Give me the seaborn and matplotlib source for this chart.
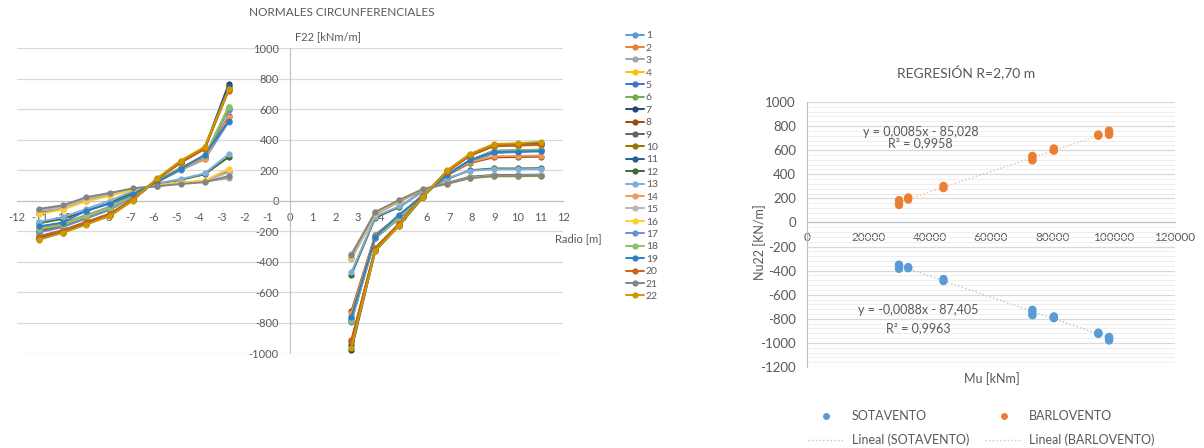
"""
plot.py
-----------
Normales circunferenciales F22 por radio y regresión Nu22 - Mu en R=2,70 m.
"""

import numpy as np
import pandas as pd
import matplotlib
matplotlib.use("Agg")
import matplotlib.pyplot as plt
import seaborn as sns
from matplotlib.ticker import MultipleLocator
from matplotlib.lines import Line2D

# -----------------------------
# Datos
# -----------------------------
# radios de cada punto [m]: lado negativo (barlovento) y positivo (sotavento)
radios_neg = [-11.05, -10.0, -8.95, -7.9, -6.9, -5.85, -4.8, -3.75, -2.7]
radios_pos = [2.7, 3.75, 4.8, 5.85, 6.9, 7.9, 8.95, 10.0, 11.05]

# F22 [kNm/m]: 9 valores del lado negativo + 9 del lado positivo
serie_01 = [-175, -150, -95, -40, 35, 120, 200, 270, 515,   -770, -235, -105, 30, 165, 250, 310, 318, 322]
serie_02 = [-240, -200, -145, -90, 10, 140, 250, 340, 725,  -925, -315, -155, 28, 190, 295, 360, 365, 372]
serie_03 = [-65, -40, 15, 45, 78, 95, 112, 125, 145,        -350, -78, 2, 72, 110, 148, 160, 160, 163]
serie_04 = [-245, -205, -150, -92, 8, 142, 258, 348, 735,   -960, -325, -160, 25, 195, 302, 366, 370, 378]
serie_05 = [-205, -170, -115, -55, 28, 125, 212, 288, 600,  -790, -245, -115, 35, 172, 262, 325, 328, 332]
serie_06 = [-195, -165, -108, -50, 30, 127, 215, 290, 614,  -780, -240, -110, 38, 170, 258, 322, 326, 330]
serie_07 = [-255, -210, -155, -98, 2, 138, 252, 342, 762,   -980, -330, -165, 22, 192, 300, 362, 366, 370]
serie_08 = [-200, -168, -112, -52, 32, 122, 205, 280, 553,  -725, -225, -100, 40, 165, 245, 283, 285, 288]
serie_09 = [-80, -55, 0, 35, 72, 98, 115, 128, 190,         -380, -90, -8, 70, 115, 155, 168, 168, 170]
serie_10 = [-235, -195, -140, -85, 12, 140, 248, 338, 730,  -915, -310, -150, 30, 188, 292, 355, 360, 365]
serie_11 = [-248, -208, -152, -95, 5, 139, 255, 345, 750,   -950, -322, -158, 26, 194, 298, 364, 368, 374]
serie_12 = [-150, -120, -70, -15, 55, 110, 135, 172, 285,   -487, -112, -44, 62, 140, 198, 210, 210, 212]
serie_13 = [-140, -110, -55, 0, 62, 112, 140, 178, 303,     -470, -105, -38, 58, 145, 195, 205, 205, 207]
serie_14 = [-185, -155, -100, -45, 35, 124, 205, 275, 545,  -740, -230, -102, 38, 168, 250, 290, 292, 295]
serie_15 = [-70, -48, 10, 42, 76, 96, 113, 126, 185,        -385, -88, -5, 72, 112, 150, 163, 163, 166]
serie_16 = [-90, -60, -5, 30, 70, 100, 118, 130, 208,       -370, -82, -2, 74, 108, 146, 158, 158, 160]
serie_17 = [-210, -175, -118, -60, 25, 126, 212, 290, 596,  -795, -248, -118, 33, 172, 264, 326, 330, 334]
serie_18 = [-190, -160, -105, -48, 30, 128, 216, 292, 610,  -785, -242, -112, 36, 170, 260, 324, 328, 332]
serie_19 = [-170, -145, -66, -20, 40, 122, 208, 300, 520,   -765, -237, -92, 30, 168, 263, 318, 320, 325]
serie_20 = [-238, -198, -142, -88, 10, 138, 250, 340, 720,  -920, -318, -152, 28, 190, 296, 358, 362, 368]
serie_21 = [-55, -32, 22, 50, 80, 94, 108, 120, 160,        -360, -75, 3, 76, 110, 147, 160, 160, 162]
serie_22 = [-258, -212, -158, -100, 0, 145, 262, 352, 728,  -965, -329, -164, 24, 197, 305, 370, 375, 385]

series = [serie_01, serie_02, serie_03, serie_04, serie_05, serie_06, serie_07, serie_08,
          serie_09, serie_10, serie_11, serie_12, serie_13, serie_14, serie_15, serie_16,
          serie_17, serie_18, serie_19, serie_20, serie_21, serie_22]
nombres = [str(i) for i in range(1, 23)]

# Mu [kNm] de cada serie (regresión en R=2,70 m)
mu_series = [73500, 95000, 30000, 98500, 80500, 80500, 98500, 73500, 33000, 95000, 98500,
             44500, 44500, 73500, 30000, 33000, 80500, 80500, 73500, 95000, 30000, 98500]

# paleta por defecto de Excel
colores = ['#5B9BD5', '#ED7D31', '#A5A5A5', '#FFC000', '#4472C4', '#70AD47', '#264478', '#9E480E',
           '#636363', '#997300', '#255E91', '#43682B', '#7CAFDD', '#F1975A', '#B7B7B7', '#FFCD33',
           '#698ED0', '#8CC168', '#327DC2', '#D26012', '#848484', '#CC9A00']

# -----------------------------
# DataFrames
# -----------------------------
radios = radios_neg + radios_pos
filas = []
for nombre, valores in zip(nombres, series):
    for r, v in zip(radios, valores):
        filas.append({'serie': nombre, 'radio': r, 'f22': v, 'lado': 'neg' if r < 0 else 'pos'})
df = pd.DataFrame(filas)

# valores en R=2,70 m: barlovento (r=-2,7) y sotavento (r=+2,7)
idx_bar = radios.index(-2.7)
idx_sot = radios.index(2.7)
reg = pd.DataFrame({
    'mu': mu_series + mu_series,
    'nu22': [s[idx_sot] for s in series] + [s[idx_bar] for s in series],
    'tipo': ['SOTAVENTO'] * len(series) + ['BARLOVENTO'] * len(series),
})

# -----------------------------
# Figura
# -----------------------------
sns.set_style('white')
plt.rcParams['font.family'] = ['Lato', 'DejaVu Sans']
plt.rcParams['axes.unicode_minus'] = False
GRIS_TXT = '#595959'
GRIS_GRID = '#D9D9D9'
GRIS_EJE = '#BFBFBF'

W, H = 1204, 448
fig = plt.figure(figsize=(W / 100, H / 100), dpi=100)

def px(x0, y0, x1, y1):
    """Rectángulo en pixeles (desde arriba) -> coordenadas de figura."""
    return [x0 / W, 1 - y1 / H, (x1 - x0) / W, (y1 - y0) / H]

# --- gráfico izquierdo: normales circunferenciales
ax1 = fig.add_axes(px(17, 48, 563, 353))
sns.lineplot(data=df, x='radio', y='f22', hue='serie', hue_order=nombres, palette=colores,
             units='lado', estimator=None, marker='o', markersize=4.5, markeredgewidth=0,
             linewidth=1.4, ax=ax1, zorder=3)
handles, labels = ax1.get_legend_handles_labels()
ax1.get_legend().remove()

ax1.set_xlim(-12, 12)
ax1.set_ylim(-1000, 1000)
ax1.set_xticks(range(-12, 13))
ax1.set_yticks(range(-1000, 1001, 200))
ax1.spines['left'].set_position(('data', 0))
ax1.spines['bottom'].set_position(('data', 0))
for s in ['top', 'right']:
    ax1.spines[s].set_visible(False)
for s in ['left', 'bottom']:
    ax1.spines[s].set_color(GRIS_EJE)
ax1.yaxis.grid(True, color=GRIS_GRID, lw=0.9)
ax1.set_axisbelow(True)
ax1.tick_params(length=0, labelsize=8, labelcolor=GRIS_TXT, pad=8)
ax1.set_xlabel('')
ax1.set_ylabel('')

fig.text(342 / W, 1 - 13 / H, 'NORMALES CIRCUNFERENCIALES', ha='center', va='center',
         fontsize=8.5, color=GRIS_TXT)
fig.text(295 / W, 1 - 37 / H, 'F22 [kNm/m]', ha='left', va='center', fontsize=8, color=GRIS_TXT)
fig.text(555 / W, 1 - 239 / H, 'Radio [m]', ha='left', va='center', fontsize=8, color=GRIS_TXT)

fig.legend(handles, labels, loc='upper left', bbox_to_anchor=(626 / W, 1 - 31 / H),
           frameon=False, fontsize=7.5, labelspacing=0.3, handlelength=1.7,
           handletextpad=0.2, borderpad=0, borderaxespad=0, labelcolor=GRIS_TXT)

# --- gráfico derecho: regresión
ax2 = fig.add_axes(px(807, 102, 1175, 367))
pal_reg = {'SOTAVENTO': '#5B9BD5', 'BARLOVENTO': '#ED7D31'}
lin_reg = {'SOTAVENTO': '#A9C8E8', 'BARLOVENTO': '#F6BE98'}
for tipo in ['SOTAVENTO', 'BARLOVENTO']:
    sns.regplot(data=reg[reg['tipo'] == tipo], x='mu', y='nu22', scatter=False, ci=None,
                truncate=True, line_kws=dict(color=lin_reg[tipo], lw=1, ls=':'), ax=ax2)
sns.scatterplot(data=reg, x='mu', y='nu22', hue='tipo', palette=pal_reg, s=36,
                edgecolor='none', legend=False, ax=ax2, zorder=4)

ax2.set_xlim(0, 120000)
ax2.set_ylim(-1200, 1000)
ax2.set_xticks(range(0, 120001, 20000))
ax2.set_yticks(range(-1200, 1001, 200))
ax2.yaxis.set_minor_locator(MultipleLocator(40))
ax2.spines['bottom'].set_position(('data', 0))
for s in ['top', 'right']:
    ax2.spines[s].set_visible(False)
for s in ['left', 'bottom']:
    ax2.spines[s].set_color(GRIS_EJE)
ax2.yaxis.grid(True, which='major', color=GRIS_GRID, lw=0.9)
ax2.yaxis.grid(True, which='minor', color='#EEEEEE', lw=0.7)
ax2.set_axisbelow(True)
ax2.tick_params(axis='y', which='both', length=0, labelsize=9.5, labelcolor=GRIS_TXT, pad=8)
ax2.tick_params(axis='x', length=4, direction='inout', color=GRIS_EJE, labelsize=8.5,
                labelcolor=GRIS_TXT, pad=5)
ax2.set_xlabel('')
ax2.set_ylabel('')

ax2.text(37000, 754, 'y = 0,0085x - 85,028', ha='center', va='center', fontsize=9, color=GRIS_TXT)
ax2.text(37000, 660, 'R² = 0,9958', ha='center', va='center', fontsize=9, color=GRIS_TXT)
ax2.text(36200, -726, 'y = -0,0088x - 87,405', ha='center', va='center', fontsize=9, color=GRIS_TXT)
ax2.text(36200, -876, 'R² = 0,9963', ha='center', va='center', fontsize=9, color=GRIS_TXT)

fig.text(966 / W, 1 - 73 / H, 'REGRESIÓN R=2,70 m', ha='center', va='center',
         fontsize=10, color=GRIS_TXT)
fig.text(992 / W, 1 - 379 / H, 'Mu [kNm]', ha='center', va='center', fontsize=9, color=GRIS_TXT)
fig.text(760 / W, 1 - 242 / H, 'Nu22 [KN/m]', ha='center', va='center', rotation=90,
         fontsize=9, color=GRIS_TXT)

leg_handles = [
    Line2D([], [], ls='none', marker='o', ms=5, mew=0, color=pal_reg['SOTAVENTO']),
    Line2D([], [], ls=':', lw=1, color=lin_reg['SOTAVENTO']),
    Line2D([], [], ls='none', marker='o', ms=5, mew=0, color=pal_reg['BARLOVENTO']),
    Line2D([], [], ls=':', lw=1, color=lin_reg['BARLOVENTO']),
]
leg_labels = ['SOTAVENTO', 'Lineal (SOTAVENTO)', 'BARLOVENTO', 'Lineal (BARLOVENTO)']
fig.legend(leg_handles, leg_labels, loc='upper left', bbox_to_anchor=(808 / W, 1 - 410 / H), ncol=2,
           frameon=False, fontsize=9, labelspacing=0.95, handlelength=2.9, handletextpad=0.6,
           columnspacing=1.3, borderpad=0, borderaxespad=0, labelcolor=GRIS_TXT)

fig.savefig('out.png', dpi=100)
